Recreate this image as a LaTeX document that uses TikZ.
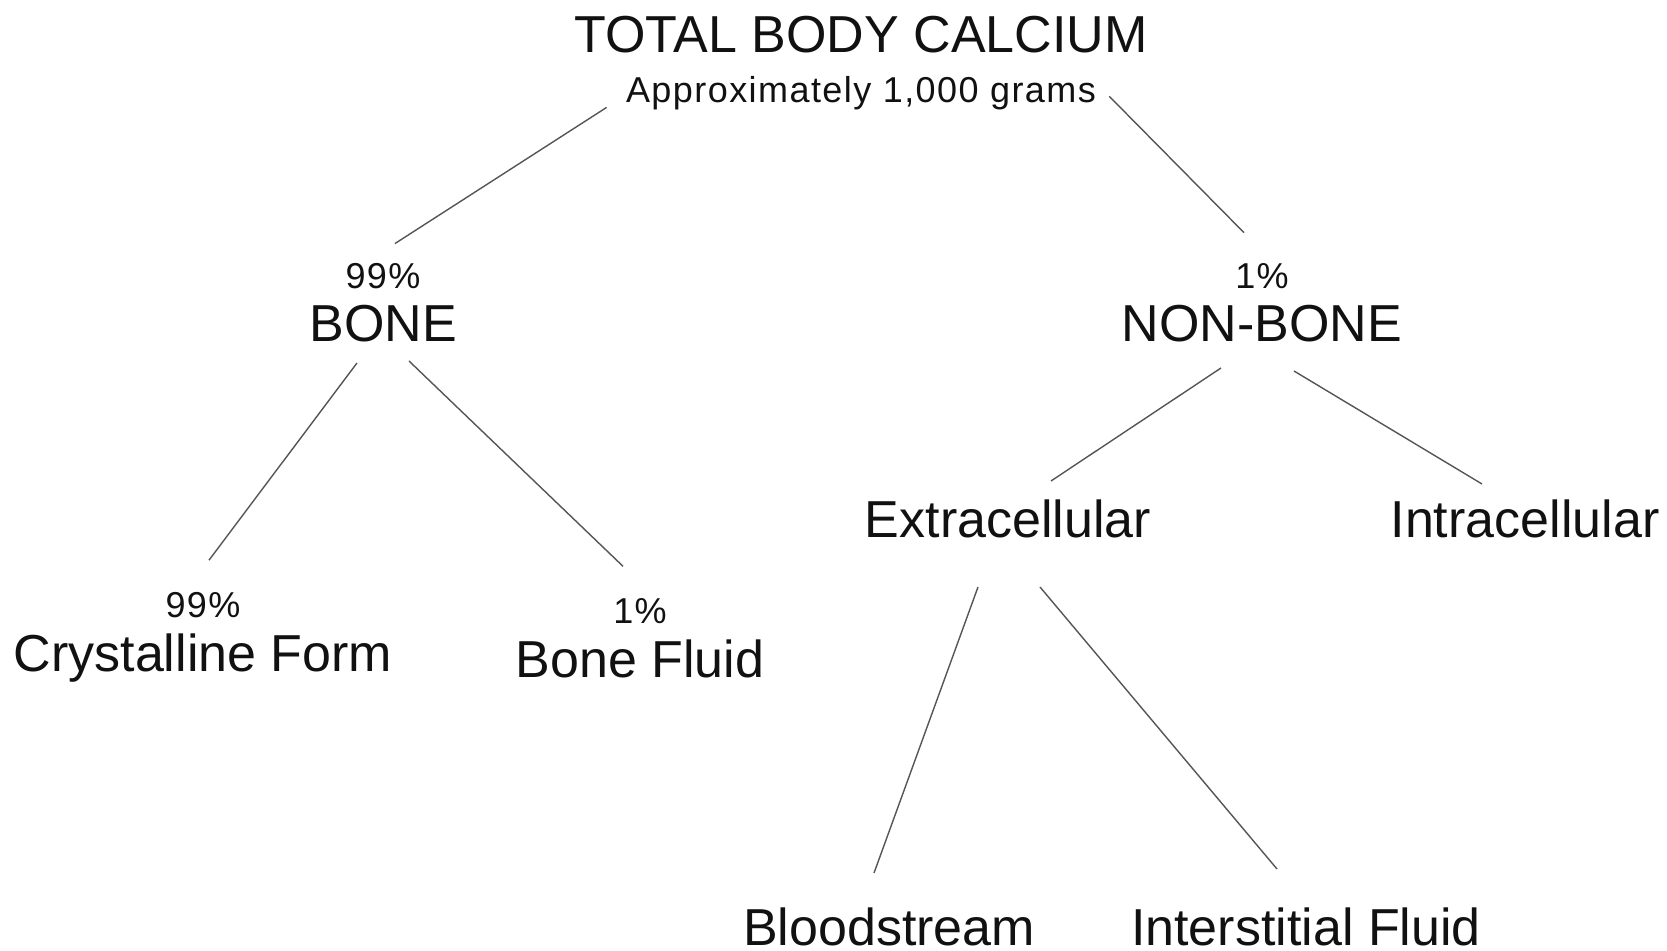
\documentclass[tikz,border=0pt]{standalone}
\usepackage{fontspec}
\setmainfont{Liberation Sans}
\newfontfamily\pctfont[LetterSpace=4]{Liberation Sans}
\usepackage{tikz}
\usetikzlibrary{positioning,calc}
\definecolor{LinkGrey}{HTML}{555555}
\definecolor{InkBlack}{HTML}{111111}
\tikzset{
  % Big labels
  TL/.style={inner sep=0pt,anchor=base,text=InkBlack,
             font=\fontsize{26}{28}\selectfont},
  % Small labels (amounts, percentages)
  PL/.style={inner sep=0pt,text=InkBlack,
             font=\pctfont\fontsize{18}{20}\selectfont},
  % Connector
  lnk/.style={draw=LinkGrey,line width=0.7pt}
}

\begin{document}
\begin{tikzpicture}[x=0.5pt,y=-0.5pt,node distance=8pt]
  \useasboundingbox (0,0) rectangle (1667,951);

  \node[TL]                       (total)  at (861,53) {TOTAL BODY CALCIUM};
  \node[PL,below=11pt of total]   (approx) {Approximately 1,000 grams};

  \node[TL]             (bone)    at (383,342)  {BONE};
  \node[PL,above=of bone]    (boneP)    {99\%};
  \node[TL]             (nonbone) at (1262,342) {NON-BONE};
  \node[PL,above=of nonbone] (nonboneP) {1\%};

  \node[TL]             (cryst)   at (203,672)  {Crystalline Form};
  \node[PL,above=of cryst]   (crystP)   {99\%};
  \node[TL]             (fluid)   at (640,678)  {Bone Fluid};
  \node[PL,above=of fluid]   (fluidP)   {1\%};

  \node[TL]             (extra)   at (1008,538) {Extracellular};
  \node[TL]             (intra)   at (1525,538) {Intracellular};
  \node[TL]             (blood)   at (889,946)  {Bloodstream};
  \node[TL]             (inter)   at (1306,946) {Interstitial Fluid};

  \draw[lnk]([shift={(-19,5)}]approx.base west) -- ([shift={(12,-45)}]boneP.base);
  \draw[lnk]([shift={(13,-6)}]approx.base east) -- ([shift={(-18,-56)}]nonboneP.base);
  \draw[lnk]([shift={(-26,21)}]bone.base) -- ([shift={(6,-57)}]crystP.base);
  \draw[lnk]([shift={(26,19)}]bone.base)  -- ([shift={(-17,-57)}]fluidP.base);
  \draw[lnk]([shift={(-41,26)}]nonbone.base) -- ([shift={(43,-57)}]extra.base);
  \draw[lnk]([shift={(32,29)}]nonbone.base)  -- ([shift={(-43,-54)}]intra.base);
  \draw[lnk]([shift={(-30,49)}]extra.base) -- ([shift={(-15,-73)}]blood.base);
  \draw[lnk]([shift={(32,49)}]extra.base)  -- ([shift={(-29,-77)}]inter.base);
\end{tikzpicture}
\end{document}
